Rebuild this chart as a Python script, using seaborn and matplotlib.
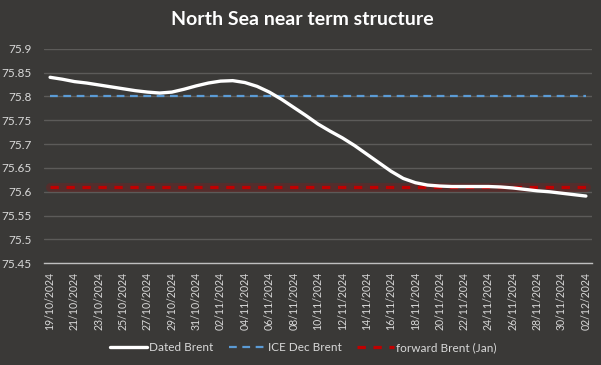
import numpy as np
import pandas as pd
import matplotlib
matplotlib.use("Agg")
import matplotlib.pyplot as plt
from matplotlib.lines import Line2D
import seaborn as sns

# ---- data ----
dates = ["19/10/2024", "20/10/2024", "21/10/2024", "22/10/2024", "23/10/2024",
         "24/10/2024", "25/10/2024", "26/10/2024", "27/10/2024", "28/10/2024",
         "29/10/2024", "30/10/2024", "31/10/2024", "01/11/2024", "02/11/2024",
         "03/11/2024", "04/11/2024", "05/11/2024", "06/11/2024", "07/11/2024",
         "08/11/2024", "09/11/2024", "10/11/2024", "11/11/2024", "12/11/2024",
         "13/11/2024", "14/11/2024", "15/11/2024", "16/11/2024", "17/11/2024",
         "18/11/2024", "19/11/2024", "20/11/2024", "21/11/2024", "22/11/2024",
         "23/11/2024", "24/11/2024", "25/11/2024", "26/11/2024", "27/11/2024",
         "28/11/2024", "29/11/2024", "30/11/2024", "01/12/2024", "02/12/2024"]

dated_brent = [75.840, 75.836, 75.831, 75.828, 75.824, 75.820, 75.816, 75.812,
               75.809, 75.807, 75.809, 75.815, 75.822, 75.828, 75.832, 75.833,
               75.829, 75.821, 75.809, 75.794, 75.777, 75.760, 75.742, 75.727,
               75.713, 75.697, 75.679, 75.661, 75.643, 75.628, 75.619, 75.614,
               75.612, 75.611, 75.611, 75.611, 75.611, 75.610, 75.608, 75.605,
               75.602, 75.600, 75.597, 75.594, 75.591]
ice_dec_brent = 75.80
forward_brent_jan = 75.61

y_ticks = [75.45, 75.5, 75.55, 75.6, 75.65, 75.7, 75.75, 75.8, 75.85, 75.9]
y_tick_labels = ["75.45", "75.5", "75.55", "75.6", "75.65", "75.7",
                 "75.75", "75.8", "75.85", "75.9"]

BG = "#3a3937"
GRID = "#5c5b59"
TXT = "#d9d9d9"
BLUE = "#5b9bd5"
RED = "#c00000"
BLUE_LS = (0, (5.6, 4.0))
RED_LS = (0, (6.0, 5.5))

n = len(dates)
df = pd.DataFrame({
    "day": np.arange(n),
    "Dated Brent": dated_brent,
    "ICE Dec Brent": [ice_dec_brent] * n,
    "forward Brent (Jan)": [forward_brent_jan] * n,
})

sns.set_style("dark")
plt.rcParams["font.family"] = ["Lato", "DejaVu Sans"]
plt.rcParams["lines.scale_dashes"] = False

fig = plt.figure(figsize=(6.01, 3.65), dpi=100, facecolor=BG)
ax = fig.add_axes([0.0732, 0.2786, 0.9118, 0.588])
ax.set_facecolor(BG)

# soft glow behind the red line
sns.lineplot(data=df, x="day", y="forward Brent (Jan)", ax=ax, color=RED,
             lw=6.5, alpha=0.2, zorder=2)
sns.lineplot(data=df, x="day", y="forward Brent (Jan)", ax=ax, color=RED,
             lw=2.3, ls=RED_LS, zorder=3)
sns.lineplot(data=df, x="day", y="ICE Dec Brent", ax=ax, color=BLUE,
             lw=1.6, ls=BLUE_LS, zorder=3)
sns.lineplot(data=df, x="day", y="Dated Brent", ax=ax, color="white",
             lw=2.4, zorder=4)

ax.set_xlim(-0.5, n - 0.5)
ax.set_ylim(75.45, 75.9)
ax.set_yticks(y_ticks)
ax.set_yticklabels(y_tick_labels)
ax.yaxis.grid(True, color=GRID, lw=1)
ax.xaxis.grid(False)

# ticks between categories, labels centred under every other day
ax.set_xticks(np.arange(-0.5, n - 1, 2))
ax.set_xticklabels([])
ax.set_xticks(np.arange(0, n, 2), minor=True)
ax.set_xticklabels(dates[::2], minor=True, rotation=90)
ax.tick_params(axis="x", which="major", length=5, color="#bfbfbf", width=1)
ax.tick_params(axis="x", which="minor", length=0, pad=6, labelsize=7.6,
               labelcolor=TXT)
ax.tick_params(axis="y", length=0, pad=9, labelsize=8.5, labelcolor=TXT)

for s in ["top", "right", "left"]:
    ax.spines[s].set_visible(False)
ax.spines["bottom"].set_color("#bfbfbf")
ax.spines["bottom"].set_linewidth(1)
ax.set_xlabel("")
ax.set_ylabel("")

fig.text(0.503, 0.947, "North Sea near term structure", ha="center", va="center",
         color="white", fontsize=14, fontweight="bold")

handles = [
    Line2D([0], [0], color="white", lw=2.4),
    Line2D([0], [0], color=BLUE, lw=1.6, ls=BLUE_LS),
    Line2D([0], [0], color=RED, lw=2.3, ls=RED_LS),
]
leg = fig.legend(handles, ["Dated Brent", "ICE Dec Brent", "forward Brent (Jan)"],
                 loc="center", bbox_to_anchor=(0.505, 0.047), ncol=3,
                 frameon=False, fontsize=8.5, handlelength=3.1,
                 handletextpad=0.2, columnspacing=1.3)
for t in leg.get_texts():
    t.set_color(TXT)

fig.savefig("out.png", dpi=100, facecolor=BG)
